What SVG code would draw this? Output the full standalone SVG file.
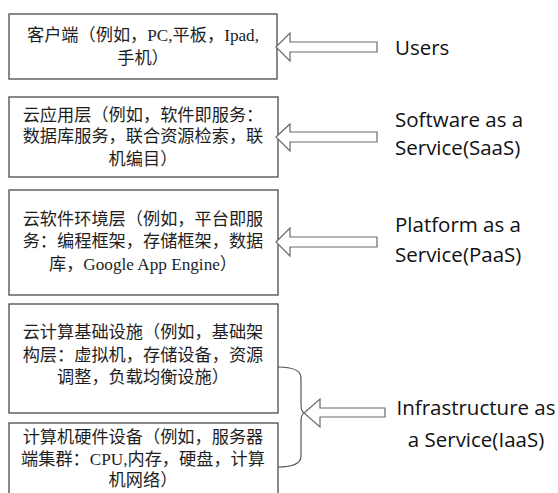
<svg xmlns="http://www.w3.org/2000/svg" width="558" height="493" viewBox="0 0 558 493">
<defs>
<style>
.box{fill:#fff;stroke:#4a4a4a;stroke-width:1.3}
.zh{font-family:"Liberation Serif","Noto Sans CJK SC",serif;font-size:17.2px;fill:#1e1e1e;text-anchor:middle}
.en{font-family:"Open Sans","Lato",sans-serif;font-size:20.5px;fill:#111}
.arr{fill:#fff;stroke:#6a6a6a;stroke-width:1.2}
.brace{fill:none;stroke:#555;stroke-width:1.2}
</style>
</defs>
<rect width="558" height="493" fill="#fff"/>
<g id="client">
<rect class="box" x="9" y="14" width="268" height="65"/>
<text class="zh" x="143" y="41">客户端（例如，PC,平板，Ipad,</text>
<text class="zh" x="143" y="64">手机）</text>
</g>
<g id="saas-layer">
<rect class="box" x="9" y="97" width="269" height="80"/>
<text class="zh" x="143" y="121">云应用层（例如，软件即服务：</text>
<text class="zh" x="143" y="142">数据库服务，联合资源检索，联</text>
<text class="zh" x="143" y="165">机编目）</text>
</g>
<g id="paas-layer">
<rect class="box" x="9" y="190" width="269" height="105"/>
<text class="zh" x="143" y="225">云软件环境层（例如，平台即服</text>
<text class="zh" x="143" y="247">务：编程框架，存储框架，数据</text>
<text class="zh" x="143" y="270">库，Google App Engine）</text>
</g>
<g id="iaas-layer">
<rect class="box" x="9" y="304" width="269" height="109"/>
<text class="zh" x="143" y="338">云计算基础设施（例如，基础架</text>
<text class="zh" x="143" y="361">构层：虚拟机，存储设备，资源</text>
<text class="zh" x="143" y="383">调整，负载均衡设施）</text>
</g>
<g id="hardware">
<rect class="box" x="9" y="423" width="269" height="80"/>
<text class="zh" x="143" y="443">计算机硬件设备（例如，服务器</text>
<text class="zh" x="143" y="465">端集群：CPU,内存，硬盘，计算</text>
<text class="zh" x="143" y="486">机网络）</text>
</g>
<g id="users">
<text class="en" x="395" y="55">Users</text>
</g>
<g id="saas">
<text class="en" x="395" y="127">Software as a</text>
<text class="en" x="395" y="155">Service(SaaS)</text>
</g>
<g id="paas">
<text class="en" x="395" y="232">Platform as a</text>
<text class="en" x="395" y="262">Service(PaaS)</text>
</g>
<g id="iaas">
<text class="en" x="476" y="415" text-anchor="middle">Infrastructure as</text>
<text class="en" x="476" y="447" text-anchor="middle">a Service(IaaS)</text>
</g>
<g id="connectors">
<polygon class="arr" points="276,47 290,33 290,42 377,42 377,52 290,52 290,61"/>
<polygon class="arr" points="276,137 290,124 290,132 377,132 377,142 290,142 290,151"/>
<polygon class="arr" points="276,242 290,228 290,237 377,237 377,247 290,247 290,256"/>
<path class="brace" d="M278,367 Q301,367 301,378 L301,404 Q301,413 305,413 Q301,413 301,422 L301,456 Q301,467 278,467"/>
<polygon class="arr" points="304,413 320,399 320,408 385,408 385,417 320,417 320,427"/>
</g>
</svg>
